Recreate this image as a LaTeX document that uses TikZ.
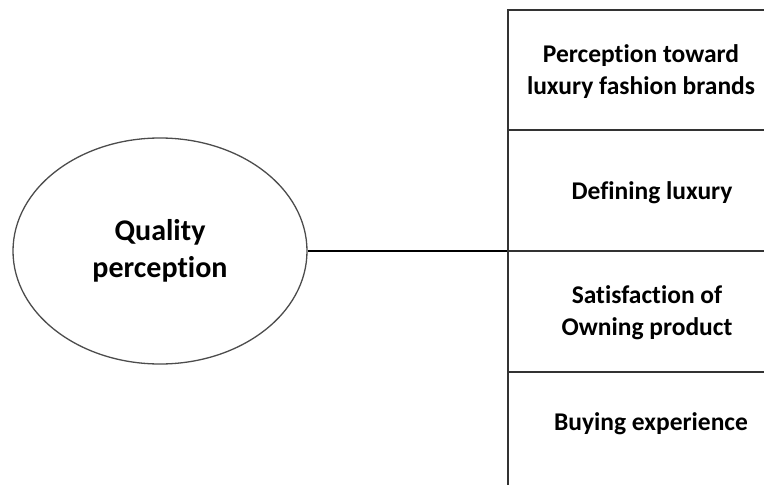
\documentclass[tikz,border=0pt]{standalone}
\usepackage{fontspec}
\setmainfont{Carlito}[Ligatures=NoCommon]
\usetikzlibrary{shapes.geometric}
\begin{document}
\begin{tikzpicture}[x=1pt,y=-1pt,
  boxstyle/.style={draw=black!80, line width=1.6pt, rectangle, minimum width=278pt, inner sep=0pt},
  boxtext/.style={font=\fontsize{25.5}{32}\selectfont\bfseries, text=black, align=center},
  ovalstyle/.style={draw=black!70, line width=1.3pt, ellipse, minimum width=294pt, minimum height=226pt, inner sep=0pt,
    font=\fontsize{30}{37}\selectfont\bfseries, text=black, align=center},
  linkstyle/.style={draw=black, line width=2pt}]
\useasboundingbox (0,0) rectangle (764,485);
\clip (0,0) rectangle (764,485);
\node[ovalstyle] (q) at (160,251) {Quality\\perception};
\node[boxstyle, minimum height=120pt] (b1) at (647,70) {};
\node[boxstyle, minimum height=121pt] (b2) at (647,190.5) {};
\node[boxstyle, minimum height=121pt] (b3) at (647,311.5) {};
\node[boxstyle, minimum height=130pt] (b4) at (647,437) {};
\node[boxtext] (t1) at (641,72) {Perception toward\\luxury fashion brands};
\node[boxtext] (t2) at (652,193) {Defining luxury};
\node[boxtext] (t3) at (647,313) {Satisfaction of\\Owning product};
\node[boxtext] (t4) at (651,424) {Buying experience};
\draw[linkstyle] (q.east) -- (q.east -| b2.south west);
\end{tikzpicture}
\end{document}
